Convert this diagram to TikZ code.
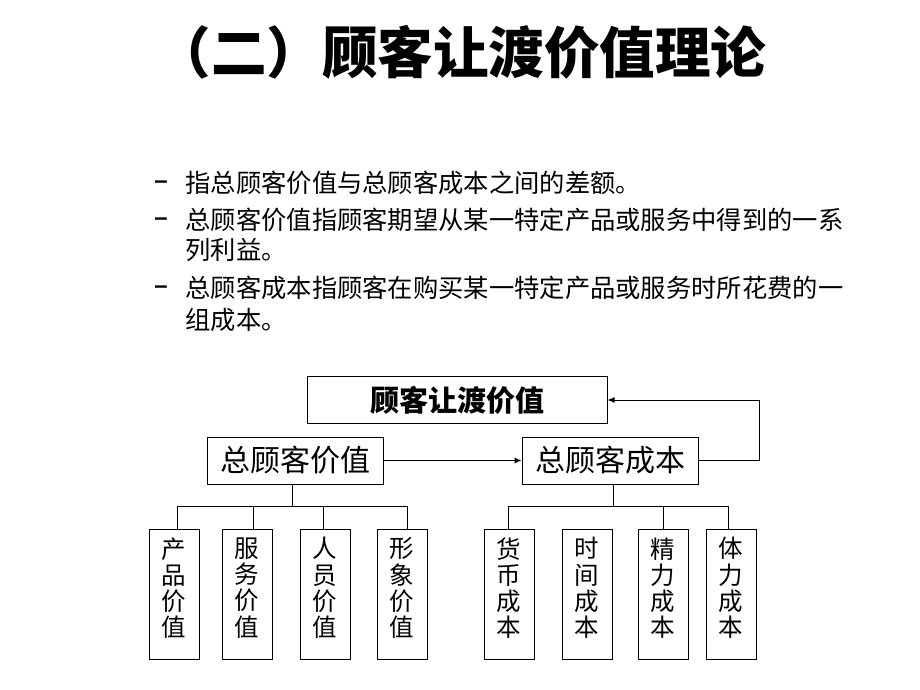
\documentclass[tikz,border=0pt]{standalone}
\usepackage{fontspec}
\setmainfont{Liberation Sans}
\newfontfamily\cjk{Noto Sans CJK SC}
\usetikzlibrary{arrows.meta}
\begin{document}
\begin{tikzpicture}[x=1pt,y=-1pt,
  line width=1pt,
  bodytext/.style={anchor=west,inner sep=0pt,font=\cjk\fontsize{25.3}{28}\selectfont},
  dashmark/.style={inner sep=0pt,font=\bfseries\fontsize{24}{28}\selectfont},
  bigbox/.style={draw,minimum width=176,minimum height=47,inner sep=0pt,font=\cjk\fontsize{30}{32}\selectfont},
  topbox/.style={draw,minimum width=300,minimum height=47,inner sep=0pt,font=\cjk\bfseries\fontsize{29}{32}\selectfont},
  itembox/.style={draw,minimum width=50,minimum height=130,inner sep=0pt},
  itemtext/.style={inner sep=0pt,align=center,font=\cjk\fontsize{24.5}{26.2}\selectfont},
  arr/.style={-{Latex[length=7,width=6]}}]
\useasboundingbox (0,0) rectangle (920,690);

\node[inner sep=0pt,font=\cjk\bfseries\fontsize{55.5}{60}\selectfont] (title) at (461,52) {（二）顾客让渡价值理论};

\node[dashmark] (d1) at (161,185) {–};
\node[bodytext] (l1) at (185,183) {指总顾客价值与总顾客成本之间的差额。};
\node[dashmark] (d2) at (161,222) {–};
\node[bodytext] (l2) at (185,220) {总顾客价值指顾客期望从某一特定产品或服务中得到的一系};
\node[bodytext] (l2b) at (185,250) {列利益。};
\node[dashmark] (d3) at (161,290) {–};
\node[bodytext] (l3) at (185,288) {总顾客成本指顾客在购买某一特定产品或服务时所花费的一};
\node[bodytext] (l3b) at (185,320) {组成本。};

\node[topbox] (top) at (457,400) {顾客让渡价值};
\node[bigbox] (lv) at (295,460.5) {总顾客价值};
\node[bigbox] (rv) at (610,460.5) {总顾客成本};

\draw[arr] (lv.east) -- (rv.west);
\draw[arr] (rv.east) -- ++(61,0) |- (top.east);

\foreach \n/\x in {b1/174,b2/247,b3/325,b4/402,b5/509,b6/587,b7/663,b8/731}{
  \node[itembox] (\n) at (\x,594) {};
}
\node[itemtext] (t1) at ([yshift=6pt]b1.center) {产\\品\\价\\值};
\node[itemtext] (t2) at ([yshift=6pt]b2.center) {服\\务\\价\\值};
\node[itemtext] (t3) at ([yshift=6pt]b3.center) {人\\员\\价\\值};
\node[itemtext] (t4) at ([yshift=6pt]b4.center) {形\\象\\价\\值};
\node[itemtext] (t5) at ([yshift=6pt]b5.center) {货\\币\\成\\本};
\node[itemtext] (t6) at ([yshift=6pt]b6.center) {时\\间\\成\\本};
\node[itemtext] (t7) at ([yshift=6pt]b7.center) {精\\力\\成\\本};
\node[itemtext] (t8) at ([yshift=6pt]b8.center) {体\\力\\成\\本};

\coordinate (busL) at (292,506);
\coordinate (busR) at (613,506);
\draw ([xshift=-3pt]lv.south) -- (busL);
\draw (rv.south) ++(3,0) -- (busR);
\draw ([xshift=3pt]b1.north) -- ([xshift=3pt]b1.north |- busL) -- ([xshift=5pt]b4.north |- busL) -- ([xshift=5pt]b4.north);
\draw ([xshift=6pt]b2.north) -- ([xshift=6pt]b2.north |- busL);
\draw ([xshift=-2pt]b3.north) -- ([xshift=-2pt]b3.north |- busL);
\draw ([xshift=-1pt]b5.north) -- ([xshift=-1pt]b5.north |- busR) -- ([xshift=-3pt]b8.north |- busR) -- ([xshift=-3pt]b8.north);
\draw (b7.north) -- (b7.north |- busR);
\end{tikzpicture}
\end{document}
